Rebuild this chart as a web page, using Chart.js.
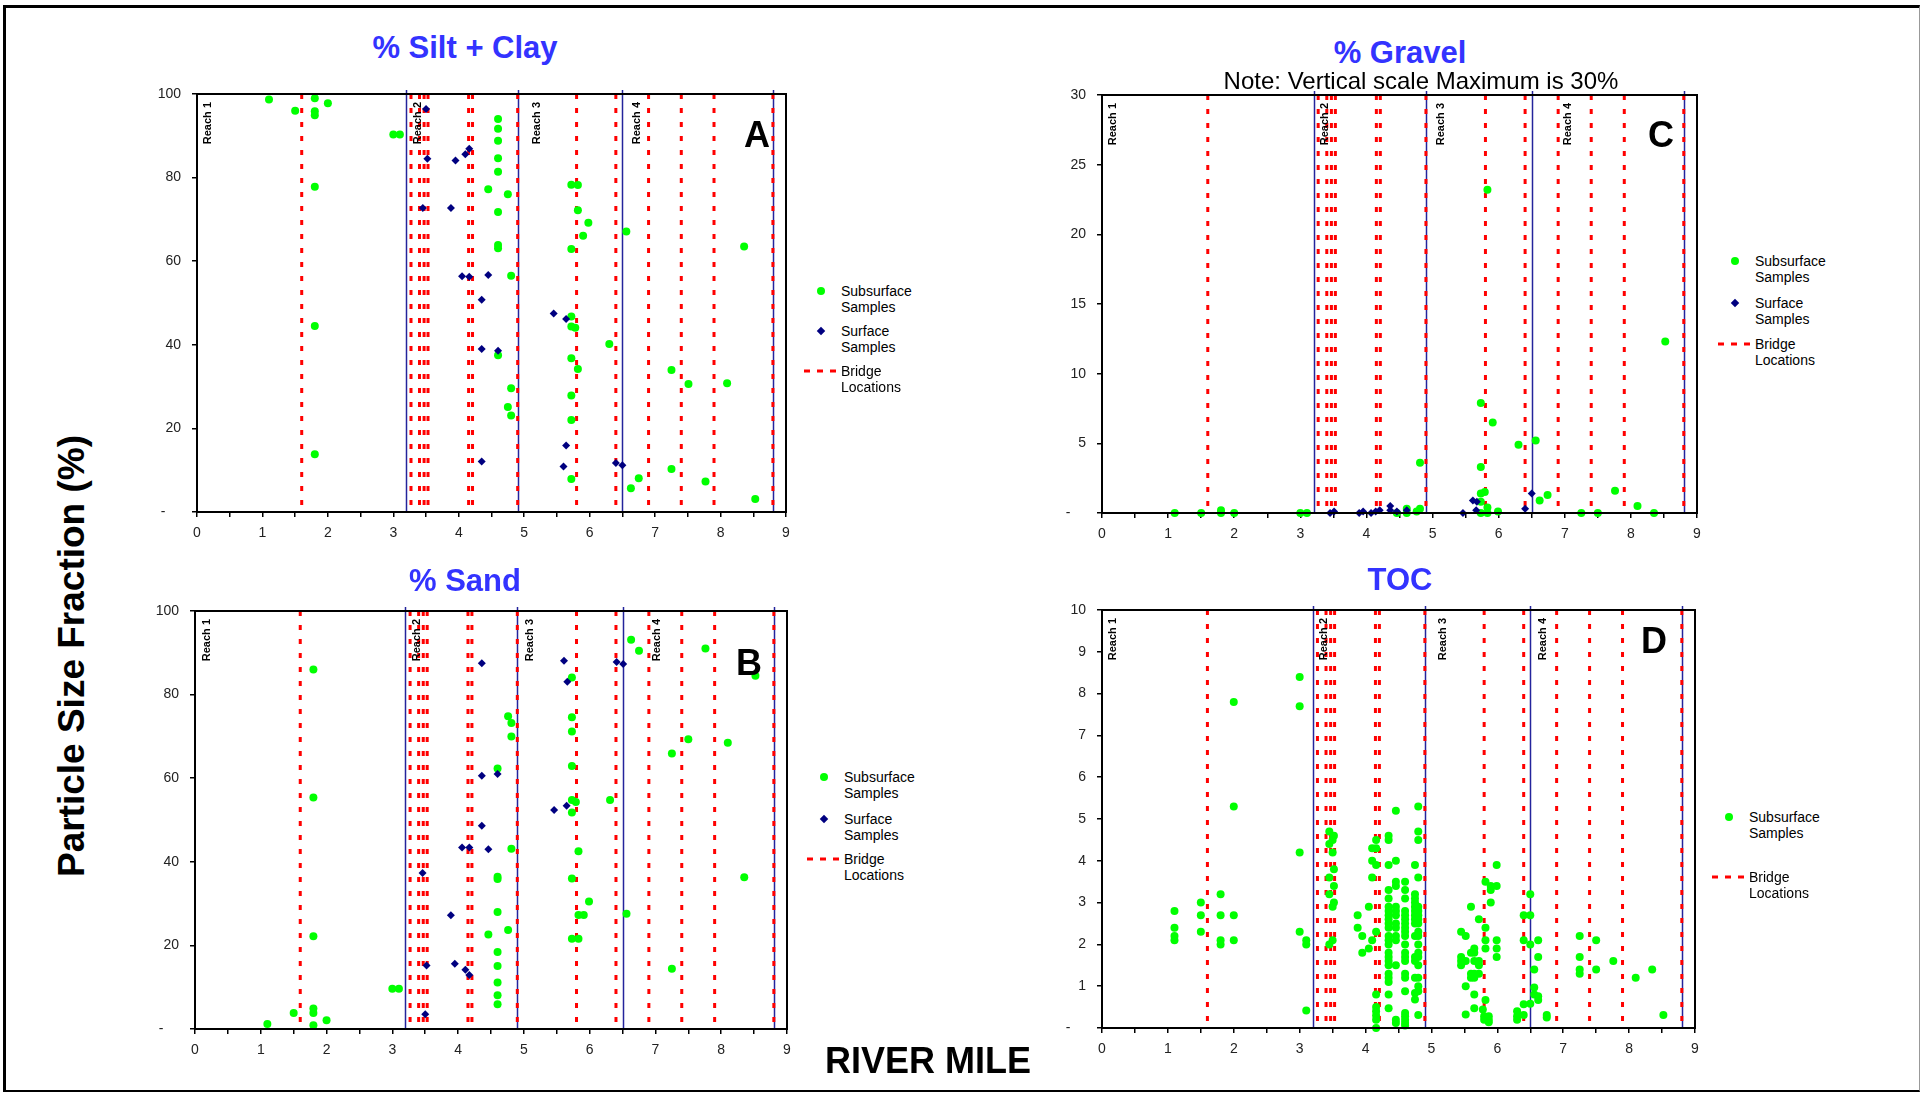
<!DOCTYPE html>
<html>
<head>
<meta charset="utf-8">
<script src="https://cdn.jsdelivr.net/npm/chart.js@4.4.1/dist/chart.umd.min.js"></script>
<style>
  body { margin: 0; background: #fff; font-family: "Liberation Sans", Arial, sans-serif; }
  #page { position: relative; width: 1921px; height: 1093px; overflow: hidden; background: #fff; }
  #frame { position: absolute; left: 3px; top: 5px; width: 1917px; height: 1087px; box-sizing: border-box;
           border-left: 3px solid #000; border-top: 3px solid #000; border-bottom: 2px solid #000; border-right: 1px solid #999; }
  .lbl { position: absolute; transform: translate(-50%, -50%); white-space: nowrap; line-height: 1; }
  .ptitle { font-weight: bold; font-size: 31px; color: #3333ff; }
  .letter { font-weight: bold; font-size: 36px; color: #000; }
  .big { font-weight: bold; font-size: 36px; color: #000; }
  .leg { position: absolute; font-size: 14px; line-height: 16px; color: #000; white-space: nowrap; }
  .dot { position: absolute; width: 8px; height: 8px; border-radius: 50%; background: #00ff00; transform: translate(-50%, -50%); }
  .dia { position: absolute; width: 6px; height: 6px; background: #000080; transform: translate(-50%, -50%) rotate(45deg); }
  .dash { position: absolute; height: 3px; transform: translateY(-50%);
          background: repeating-linear-gradient(90deg, #ff0000 0 6px, transparent 6px 13px); }
</style>
</head>
<body>
<div id="page">
  <div id="frame"></div>
</div>
<script>
// river mile of bridges and reach boundaries (same on every panel)
var bridges = [1.6, 3.27, 3.4, 3.47, 3.53, 4.15, 4.21, 4.9, 5.8, 6.4, 6.9, 7.4, 7.9, 8.8];
var reachBounds = [3.2, 4.9, 6.5, 8.8];
var reachNames = ['Reach 1', 'Reach 2', 'Reach 3', 'Reach 4'];
var xTicks = [0, 1, 2, 3, 4, 5, 6, 7, 8, 9];

// % Silt + Clay
var siltSubsurface = [
  [1.10, 98.7], [1.50, 96.0], [1.80, 99.0], [1.80, 95.9], [1.80, 94.9], [2.00, 97.8], [3.00, 90.3], [3.10, 90.3],
  [1.80, 77.8], [1.80, 44.5], [1.80, 13.8],
  [4.60, 94.0], [4.60, 91.7], [4.60, 88.8], [4.60, 84.6], [4.60, 81.4], [4.45, 77.2], [4.75, 76.0], [4.60, 71.8],
  [4.60, 63.9], [4.60, 63.1], [4.80, 56.5], [4.60, 37.5], [4.80, 29.6], [4.75, 25.1], [4.80, 23.1],
  [5.72, 78.3], [5.82, 78.2], [5.82, 72.2], [5.98, 69.2], [5.90, 66.1], [5.72, 62.9], [5.72, 46.8], [5.72, 44.4],
  [5.78, 44.1], [6.30, 40.2], [5.72, 36.8], [5.82, 34.2], [5.72, 27.9], [5.72, 22.0], [5.72, 7.9],
  [6.56, 67.1], [8.36, 63.5], [7.25, 34.0], [7.51, 30.6], [8.10, 30.8], [7.25, 10.3], [6.75, 8.1], [6.63, 5.7],
  [7.77, 7.3], [8.53, 3.1]
];
var siltSurface = [
  [3.50, 96.4], [3.52, 84.5], [3.95, 84.1], [4.10, 85.6], [4.16, 86.9], [3.45, 72.7], [3.88, 72.7], [4.05, 56.4],
  [4.16, 56.3], [4.45, 56.7], [4.35, 50.8], [5.45, 47.5], [5.64, 46.2], [4.35, 39.0], [4.60, 38.6], [5.64, 15.9],
  [4.35, 12.1], [5.60, 10.9], [6.40, 11.7], [6.50, 11.2]
];

// % Sand
var sandSubsurface = [
  [1.80, 86.0], [1.80, 55.4], [1.80, 22.2], [1.80, 4.9], [1.80, 3.8], [1.50, 3.8], [1.80, 0.9], [2.00, 2.1],
  [1.10, 1.2], [3.00, 9.6], [3.10, 9.6],
  [4.76, 74.8], [4.81, 73.2], [4.81, 70.0], [4.60, 62.3], [4.81, 43.1], [4.60, 36.4], [4.60, 35.9], [4.60, 28.0],
  [4.76, 23.7], [4.46, 22.6], [4.60, 18.4], [4.60, 15.1], [4.60, 11.1], [4.60, 8.1], [4.60, 5.9],
  [5.73, 84.1], [5.73, 74.6], [5.73, 71.2], [5.73, 62.9], [5.73, 54.8], [5.79, 54.3], [5.73, 51.8], [5.83, 42.5],
  [5.73, 36.0], [5.99, 30.5], [5.83, 27.3], [5.91, 27.3], [5.73, 21.6], [5.83, 21.6], [6.31, 54.8],
  [6.63, 93.1], [6.75, 90.5], [7.76, 91.0], [8.52, 84.5], [7.50, 69.3], [8.10, 68.5], [7.25, 65.9], [8.35, 36.3],
  [6.56, 27.6], [7.25, 14.4]
];
var sandSurface = [
  [4.36, 87.5], [5.61, 88.1], [5.66, 83.1], [6.41, 87.8], [6.51, 87.3], [4.36, 60.6], [4.60, 61.0], [5.46, 52.4],
  [5.65, 53.4], [4.36, 48.6], [4.06, 43.4], [4.17, 43.4], [4.46, 43.0], [3.46, 37.3], [3.89, 27.2], [3.52, 15.2],
  [3.95, 15.6], [4.11, 14.2], [4.17, 12.9], [3.50, 3.5]
];

// % Gravel
var gravelSubsurface = [
  [1.10, 0], [1.50, 0], [1.80, 0.2], [1.80, 0], [2.00, 0], [3.00, 0], [3.10, 0],
  [4.81, 3.6], [4.46, 0], [4.61, 0.3], [4.61, 0], [4.76, 0.1], [4.81, 0.3],
  [5.83, 23.2], [5.73, 7.9], [5.91, 6.5], [5.73, 3.3], [5.73, 1.4], [5.79, 1.5], [5.73, 0.8], [5.73, 0],
  [5.83, 0.4], [5.83, 0], [5.99, 0.1], [6.30, 4.9], [6.56, 5.2], [6.62, 0.9], [6.74, 1.3],
  [7.25, 0], [7.50, 0], [7.76, 1.6], [8.10, 0.5], [8.35, 0], [8.52, 12.3]
];
var gravelSurface = [
  [3.45, 0], [3.51, 0.1], [3.89, 0], [3.95, 0.1], [4.07, 0], [4.14, 0.1], [4.20, 0.2], [4.36, 0.5], [4.36, 0.2],
  [4.46, 0.1], [4.61, 0.2], [5.46, 0], [5.61, 0.9], [5.67, 0.8], [5.66, 0.2], [6.40, 0.3], [6.50, 1.4]
];

// TOC
var tocSubsurface = [
  [1.1, 2.8], [1.1, 2.4], [1.1, 2.2], [1.1, 2.1],
  [1.5, 3.0], [1.5, 2.7], [1.5, 2.3],
  [1.8, 3.2], [1.8, 2.7], [1.8, 2.1], [1.8, 2.0],
  [2.0, 7.8], [2.0, 5.3], [2.0, 2.7], [2.0, 2.1],
  [3.0, 8.4], [3.0, 7.7], [3.0, 4.2], [3.0, 2.3],
  [3.1, 2.1], [3.1, 2.0], [3.1, 0.42],
  [3.45, 4.7], [3.45, 4.4], [3.45, 3.6], [3.45, 3.2], [3.45, 2.0],
  [3.52, 4.6], [3.5, 4.5], [3.5, 4.2], [3.52, 3.8], [3.52, 3.4], [3.52, 3.0], [3.5, 2.9], [3.5, 2.1],
  [3.88, 2.7], [3.88, 2.4], [3.95, 2.2], [3.95, 1.8], [4.05, 2.9], [4.05, 1.9],
  [4.1, 4.3], [4.1, 4.0], [4.1, 3.6], [4.1, 2.1],
  [4.16, 4.5], [4.16, 4.3], [4.16, 3.9], [4.16, 2.3], [4.16, 0.8], [4.16, 0.5], [4.16, 0.4], [4.16, 0.3], [4.16, 0.2], [4.16, 0.0],
  [4.35, 4.6], [4.35, 4.5], [4.35, 3.9], [4.35, 3.3], [4.35, 3.1], [4.35, 2.9], [4.35, 2.8], [4.35, 2.7], [4.35, 2.6],
  [4.35, 2.5], [4.35, 2.4], [4.35, 2.2], [4.35, 2.1], [4.35, 2.0], [4.35, 1.8], [4.35, 1.7], [4.35, 1.6], [4.35, 1.5],
  [4.35, 1.3], [4.35, 1.2], [4.35, 1.1], [4.35, 0.8], [4.35, 0.47],
  [4.46, 5.2], [4.46, 4.0], [4.46, 3.5], [4.46, 3.4], [4.46, 2.9], [4.46, 2.8], [4.46, 2.7], [4.46, 2.5], [4.46, 2.4],
  [4.46, 2.2], [4.46, 2.1], [4.46, 1.5], [4.46, 0.2], [4.46, 0.12],
  [4.6, 3.5], [4.6, 3.3], [4.6, 3.1], [4.6, 2.8], [4.6, 2.7], [4.6, 2.6], [4.6, 2.5], [4.6, 2.4], [4.6, 2.3], [4.6, 2.2],
  [4.6, 2.0], [4.6, 1.8], [4.6, 1.7], [4.6, 1.6], [4.6, 1.3], [4.6, 1.2], [4.6, 0.88], [4.6, 0.36], [4.6, 0.28],
  [4.6, 0.2], [4.6, 0.12], [4.6, 0.06],
  [4.75, 3.9], [4.75, 3.2], [4.75, 3.1], [4.75, 3.0], [4.75, 2.9], [4.75, 2.8], [4.75, 2.7], [4.75, 2.6], [4.75, 2.5],
  [4.75, 2.2], [4.75, 1.7], [4.75, 1.6], [4.75, 1.2], [4.75, 0.84], [4.75, 0.68],
  [4.8, 5.3], [4.8, 4.7], [4.8, 4.5], [4.8, 3.6], [4.8, 2.9], [4.8, 2.8], [4.8, 2.7], [4.8, 2.6], [4.8, 2.5], [4.8, 2.3],
  [4.8, 2.2], [4.8, 2.0], [4.8, 1.8], [4.8, 1.7], [4.8, 1.5], [4.8, 1.2], [4.8, 1.0], [4.8, 0.88], [4.8, 0.31],
  [5.45, 2.3], [5.45, 1.7], [5.45, 1.6], [5.45, 1.5],
  [5.52, 2.2], [5.52, 1.6], [5.52, 1.0], [5.52, 0.32],
  [5.6, 2.9], [5.6, 1.8], [5.6, 1.3], [5.6, 1.2],
  [5.65, 1.9], [5.65, 1.8], [5.65, 1.6], [5.65, 1.3], [5.65, 1.2], [5.65, 0.8], [5.65, 0.47],
  [5.72, 2.6], [5.72, 1.6], [5.72, 1.5], [5.72, 1.3],
  [5.82, 3.5], [5.82, 2.4], [5.82, 2.1], [5.82, 1.9], [5.82, 0.67], [5.78, 0.44], [5.8, 0.28], [5.8, 0.2],
  [5.87, 0.28], [5.87, 0.2], [5.87, 0.14],
  [5.9, 3.4], [5.9, 3.3], [5.9, 3.0],
  [5.99, 3.9], [5.99, 3.4], [5.99, 2.1], [5.99, 1.9], [5.99, 1.7],
  [6.3, 0.4], [6.3, 0.28], [6.3, 0.2],
  [6.4, 2.7], [6.4, 2.1], [6.4, 0.57], [6.4, 0.31],
  [6.5, 3.2], [6.5, 2.7], [6.5, 2.0], [6.5, 0.58],
  [6.56, 1.4], [6.56, 0.97], [6.56, 0.8],
  [6.62, 2.1], [6.62, 1.7], [6.62, 0.76], [6.62, 0.67],
  [6.75, 0.31], [6.75, 0.25],
  [7.25, 2.2], [7.25, 1.7], [7.25, 1.4], [7.25, 1.3],
  [7.5, 2.1], [7.5, 1.4], [7.76, 1.6], [8.1, 1.2], [8.35, 1.4], [8.52, 0.31]
];

var FONT = '"Liberation Sans", Arial, sans-serif';
Chart.defaults.font.family = FONT;
var page = document.getElementById('page');

var panelDeco = {
  id: 'panelDeco',
  beforeDatasetsDraw: function (chart, args, opts) {
    var ctx = chart.ctx, a = chart.chartArea, x = chart.scales.x;
    ctx.save();
    ctx.strokeStyle = '#24249c';
    ctx.lineWidth = 1.5;
    reachBounds.forEach(function (v) {
      var px = Math.round(x.getPixelForValue(v)) + 0.5;
      ctx.beginPath(); ctx.moveTo(px, a.top - 4); ctx.lineTo(px, a.bottom); ctx.stroke();
    });
    ctx.strokeStyle = '#ff0000';
    ctx.lineWidth = 3;
    ctx.setLineDash([5, 9]);
    bridges.forEach(function (v) {
      var px = x.getPixelForValue(v);
      ctx.beginPath(); ctx.moveTo(px, a.top); ctx.lineTo(px, a.bottom); ctx.stroke();
    });
    ctx.setLineDash([]);
    ctx.fillStyle = '#000';
    ctx.font = 'bold 11px ' + FONT;
    ctx.textAlign = 'right';
    ctx.textBaseline = 'middle';
    opts.reachAt.forEach(function (v, i) {
      ctx.save();
      ctx.translate(x.getPixelForValue(v), a.top + 8);
      ctx.rotate(-Math.PI / 2);
      ctx.fillText(reachNames[i], 0, 0);
      ctx.restore();
    });
    ctx.restore();
  },
  afterDraw: function (chart) {
    var ctx = chart.ctx, a = chart.chartArea;
    ctx.save();
    ctx.strokeStyle = '#000';
    ctx.lineWidth = 2;
    ctx.strokeRect(a.left, a.top, a.right - a.left, a.bottom - a.top);
    ctx.restore();
  }
};

function toXY(list) {
  return list.map(function (p) { return { x: p[0], y: p[1] }; });
}

function makePanel(area, yMax, yStep, subsurface, surface, reachAt) {
  var cv = document.createElement('canvas');
  var w = area.r - area.l + 120, h = area.b - area.t + 60;
  cv.width = w; cv.height = h;
  cv.style.cssText = 'position:absolute;left:' + (area.l - 100) + 'px;top:' + (area.t - 20) + 'px;width:' + w + 'px;height:' + h + 'px';
  page.appendChild(cv);

  var datasets = [];
  if (surface) {
    datasets.push({
      label: 'Surface Samples', data: toXY(surface), pointStyle: 'rectRot', pointRadius: 4,
      backgroundColor: '#000080', borderColor: '#000080', borderWidth: 0, order: 0, clip: false
    });
  }
  datasets.push({
    label: 'Subsurface Samples', data: toXY(subsurface), pointStyle: 'circle', pointRadius: 4,
    backgroundColor: '#00ff00', borderColor: '#00ff00', borderWidth: 0, order: 1, clip: false
  });

  return new Chart(cv, {
    type: 'scatter',
    data: { datasets: datasets },
    options: {
      responsive: false,
      animation: false,
      devicePixelRatio: 1,
      layout: { autoPadding: false, padding: { top: 20, right: 20, bottom: 0, left: 0 } },
      plugins: {
        legend: { display: false },
        tooltip: { enabled: false },
        panelDeco: { reachAt: reachAt }
      },
      scales: {
        x: {
          type: 'linear', min: 0, max: 9,
          afterFit: function (s) { s.height = 40; },
          ticks: {
            stepSize: 0.5, autoSkip: false, maxRotation: 0, padding: 8, color: '#222',
            font: { size: 14 },
            callback: function (v) { return xTicks.indexOf(v) >= 0 ? String(v) : ''; }
          },
          grid: { drawOnChartArea: false, drawTicks: true, tickLength: 5, color: '#000', lineWidth: 1.5 },
          border: { display: false }
        },
        y: {
          min: 0, max: yMax,
          afterFit: function (s) { s.width = 100; },
          ticks: {
            stepSize: yStep, padding: 11, color: '#222', font: { size: 14 },
            callback: function (v) { return v === 0 ? '-    ' : String(v); }
          },
          grid: { drawOnChartArea: false, drawTicks: true, tickLength: 5, color: '#000', lineWidth: 1.5 },
          border: { display: false }
        }
      }
    },
    plugins: [panelDeco]
  });
}

makePanel({ l: 197, t: 94, r: 786, b: 512 }, 100, 20, siltSubsurface, siltSurface, [0.17, 3.38, 5.2, 6.73]);
makePanel({ l: 195, t: 611, r: 787, b: 1029 }, 100, 20, sandSubsurface, sandSurface, [0.18, 3.37, 5.1, 7.03]);
makePanel({ l: 1102, t: 95, r: 1697, b: 513 }, 30, 5, gravelSubsurface, gravelSurface, [0.17, 3.37, 5.13, 7.05]);
makePanel({ l: 1102, t: 610, r: 1695, b: 1028 }, 10, 1, tocSubsurface, null, [0.17, 3.37, 5.18, 6.7]);

// text overlays
function addLabel(text, cls, x, y, extra) {
  var d = document.createElement('div');
  d.className = 'lbl ' + cls;
  d.textContent = text;
  d.style.left = x + 'px';
  d.style.top = y + 'px';
  if (extra) d.style.cssText += extra;
  page.appendChild(d);
}
addLabel('% Silt + Clay', 'ptitle', 465, 47);
addLabel('% Sand', 'ptitle', 465, 580);
addLabel('% Gravel', 'ptitle', 1400, 52);
addLabel('TOC', 'ptitle', 1400, 579);
addLabel('Note: Vertical scale Maximum is 30%', '', 1421, 81, 'font-size:24px;color:#000;');
addLabel('A', 'letter', 757, 135);
addLabel('B', 'letter', 749, 663);
addLabel('C', 'letter', 1661, 135);
addLabel('D', 'letter', 1654, 641);
addLabel('RIVER MILE', 'big', 928, 1061);
addLabel('Particle Size Fraction (%)', 'big', 71, 656, 'font-size:37px;transform:translate(-50%,-50%) rotate(-90deg);');

function addLegend(x, rows) {
  rows.forEach(function (r) {
    var m = document.createElement('div');
    if (r.kind === 'dash') {
      m.className = 'dash';
      m.style.left = (x - 37) + 'px';
      m.style.width = '32px';
    } else {
      m.className = r.kind;
      m.style.left = (x - 20) + 'px';
    }
    m.style.top = r.y + 'px';
    page.appendChild(m);
    var t = document.createElement('div');
    t.className = 'leg';
    t.innerHTML = r.text;
    t.style.left = x + 'px';
    t.style.top = (r.y - 8) + 'px';
    page.appendChild(t);
  });
}
addLegend(841, [
  { kind: 'dot', y: 291, text: 'Subsurface<br>Samples' },
  { kind: 'dia', y: 331, text: 'Surface<br>Samples' },
  { kind: 'dash', y: 371, text: 'Bridge<br>Locations' }
]);
addLegend(844, [
  { kind: 'dot', y: 777, text: 'Subsurface<br>Samples' },
  { kind: 'dia', y: 819, text: 'Surface<br>Samples' },
  { kind: 'dash', y: 859, text: 'Bridge<br>Locations' }
]);
addLegend(1755, [
  { kind: 'dot', y: 261, text: 'Subsurface<br>Samples' },
  { kind: 'dia', y: 303, text: 'Surface<br>Samples' },
  { kind: 'dash', y: 344, text: 'Bridge<br>Locations' }
]);
addLegend(1749, [
  { kind: 'dot', y: 817, text: 'Subsurface<br>Samples' },
  { kind: 'dash', y: 877, text: 'Bridge<br>Locations' }
]);
</script>
</body>
</html>
